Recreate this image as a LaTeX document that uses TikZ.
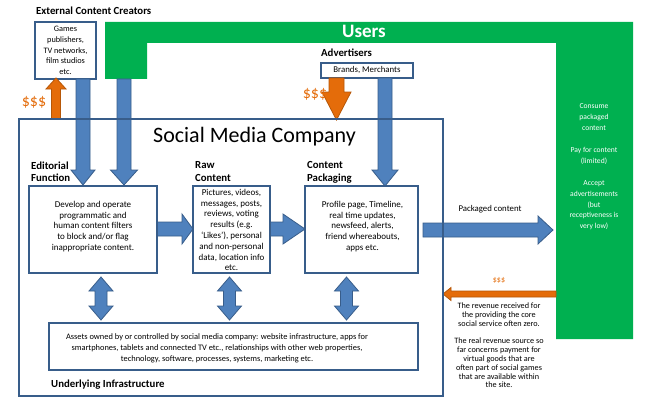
\documentclass[tikz,border=0pt]{standalone}
\usepackage{fontspec}
\setmainfont{Carlito}
\definecolor{bluefill}{HTML}{4F81BD}
\definecolor{blueline}{HTML}{385D8A}
\definecolor{boxline}{HTML}{385D8A}
\definecolor{orfill}{HTML}{E46C0A}
\definecolor{orline}{HTML}{B65708}
\definecolor{grn}{HTML}{00B050}
\newcommand\fs[2]{\fontsize{#1}{#2}\selectfont}
% vertical block arrow: style, x centre, y start, y tip, shaft half, head half, head base y
\newcommand\vArrow[7]{\filldraw[#1] ({#2-#5},#3) -- ({#2-#5},#7) -- ({#2-#6},#7) -- (#2,#4) -- ({#2+#6},#7) -- ({#2+#5},#7) -- ({#2+#5},#3) -- cycle;}
% horizontal block arrow: style, y centre, x start, x tip, shaft half, head half, head base x
\newcommand\hArrow[7]{\filldraw[#1] (#3,{#2-#5}) -- (#7,{#2-#5}) -- (#7,{#2-#6}) -- (#4,#2) -- (#7,{#2+#6}) -- (#7,{#2+#5}) -- (#3,{#2+#5}) -- cycle;}
% vertical double arrow: style, x centre, y top tip, y bottom tip, shaft half, head half, head length
\newcommand\dArrow[7]{\filldraw[#1] (#2,#3) -- ({#2+#6},{#3+#7}) -- ({#2+#5},{#3+#7}) -- ({#2+#5},{#4-#7}) -- ({#2+#6},{#4-#7}) -- (#2,#4) -- ({#2-#6},{#4-#7}) -- ({#2-#5},{#4-#7}) -- ({#2-#5},{#3+#7}) -- ({#2-#6},{#3+#7}) -- cycle;}
\begin{document}
\begin{tikzpicture}[x=1pt,y=-1pt,
  blk/.style={fill=bluefill,draw=blueline,line width=0.8pt,line join=miter},
  ork/.style={fill=orfill,draw=orline,line width=0.8pt,line join=miter},
  box/.style={draw=boxline,line width=1.1pt,fill=white,inner sep=0pt,align=center},
  txt/.style={inner sep=0pt,align=center,font=\fs{9}{10.8}},
  head/.style={inner sep=0pt,align=left,font=\bfseries\fs{10.8}{12.5}},
  money/.style={inner sep=0pt,text=orfill}]
\useasboundingbox[fill=white] (0,0) rectangle (656,404);
% Users green shape
\fill[grn] (105,22) -- (633,22) -- (633,339) -- (556,339) -- (556,43) -- (147,43) -- (147,79) -- (105,79) -- cycle;
\node[inner sep=0pt,text=white,font=\bfseries\fs{19}{21}] (users) at (364,31.5) {Users};
\node[inner sep=0pt,align=center,text=white,font=\fs{7.6}{10.9}] (usertxt) at (594,167)
 {Consume\\packaged\\content\\[10.9pt]Pay for content\\(limited)\\[10.9pt]Accept\\advertisements\\(but\\receptiveness is\\very low)};
% external creators
\node[head,anchor=base west] (extlbl) at (36,15) {External Content Creators};
\node[box,minimum width=61pt,minimum height=57pt,font=\fs{8.3}{10.7}] (games) at (65.5,50.5) {Games\\publishers,\\TV networks,\\film studios\\etc.};
% advertisers
\node[head,anchor=base west] (advlbl) at (321,56.5) {Advertisers};
\node[box,minimum width=92pt,minimum height=15pt,font=\fs{8.8}{9}] (brands) at (367,70.5) {Brands, Merchants};
% arrows into company
\vArrow{blk}{83}{79}{185}{7}{12}{170}
\vArrow{blk}{124}{79}{185}{7}{13.5}{170}
\vArrow{blk}{385}{78}{186}{7}{13}{170}
\vArrow{ork}{56}{119}{78}{4.5}{10}{89}
\vArrow{ork}{336.5}{78}{120}{7.5}{14.5}{92}
\node[money,font=\fs{16}{17}] (m1) at (34,102.5) {\$\$\$};
\node[money,font=\fs{16}{17}] (m2) at (315,94) {\$\$\$};
% horizontal arrows
\hArrow{blk}{229}{157}{193}{7}{15}{182}
\hArrow{blk}{229}{270}{305}{7}{15}{283}
\hArrow{blk}{230}{423}{553}{7}{14}{538}
\hArrow{ork}{294}{556}{443}{3}{6.5}{451}
% double arrows
\dArrow{blk}{101}{277}{320}{6}{12}{14}
\dArrow{blk}{229.5}{277}{320}{6}{12}{14}
\dArrow{blk}{346.5}{277}{320}{6}{12}{14}
% company box
\node[draw=boxline,line width=1.2pt,inner sep=0pt,minimum width=424pt,minimum height=277pt] (smc) at (231,257.5) {};
\node[inner sep=0pt,anchor=base west,font=\fs{22}{24}] (smclbl) at (153,142) {Social Media Company};
% function boxes
\node[head,anchor=north west] (edlbl) at (31,161.5) {Editorial\\Function};
\node[head,anchor=north west] (rawlbl) at (195,161.5) {Raw\\Content};
\node[head,anchor=north west] (cplbl) at (307,161.5) {Content\\Packaging};
\node[box,minimum width=128pt,minimum height=87pt] (ed) at (93,229.5) {};
\node[txt] (edtxt) at (93,226.5) {Develop and operate\\programmatic  and\\human content filters\\to block and/or flag\\inappropriate content.};
\node[box,minimum width=77pt,minimum height=87pt] (raw) at (231.5,229.5) {};
\node[txt] (rawtxt) at (231.5,230) {Pictures, videos,\\messages, posts,\\reviews, voting\\results (e.g.\\‘Likes’), personal\\and non-personal\\data, location info\\etc.};
\node[box,minimum width=113pt,minimum height=87pt] (cp) at (361.5,229.5) {};
\node[txt] (cptxt) at (362.5,226.5) {Profile page, Timeline,\\real time updates,\\newsfeed, alerts,\\friend whereabouts,\\apps etc.};
\node[inner sep=0pt,font=\fs{8.8}{10}] (pclbl) at (490,209) {Packaged content};
% infrastructure
\node[box,minimum width=369pt,minimum height=47pt] (assets) at (233.5,346.5) {};
\node[inner sep=0pt,align=center,font=\fs{8.4}{11}] (assetstxt) at (217,348.5) {Assets owned by or controlled by social media company:  website infrastructure, apps for\\smartphones, tablets  and connected TV etc., relationships with other web properties,\\technology, software,  processes, systems,  marketing etc.};
\node[head,anchor=base west] (inflbl) at (51,387) {Underlying Infrastructure};
% revenue
\node[money,font=\fs{8}{9}] (m3) at (499,280) {\$\$\$};
\node[inner sep=0pt,align=center,font=\fs{8.2}{8.9}] (revtxt) at (499,345.5)
 {The revenue received for\\the providing the core\\social service  often zero.\\[8pt]The real revenue source so\\far concerns payment for\\virtual goods that are\\often part of social games\\that are available within\\the site.};
\end{tikzpicture}
\end{document}
